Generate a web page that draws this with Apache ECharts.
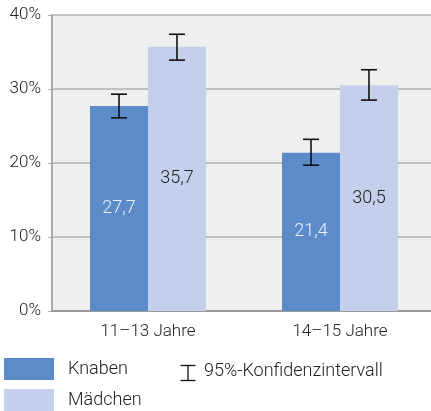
<!DOCTYPE html>
<html>
<head>
<meta charset="utf-8">
<script src="https://cdn.jsdelivr.net/npm/echarts@6/dist/echarts.min.js"></script>
<style>
  html, body { margin: 0; padding: 0; background: #fff; }
  #chart { width: 431px; height: 411px; }
</style>
</head>
<body>
<div id="chart"></div>
<script>
const categories = ['11–13 Jahre', '14–15 Jahre']
const knaben = [27.7, 21.4]
const maedchen = [35.7, 30.5]
const knabenCI = [[26.1, 29.3], [19.7, 23.2]]
const maedchenCI = [[33.9, 37.4], [28.5, 32.6]]
const yTicks = [0, 10, 20, 30, 40]

const FONT = 'Roboto'
const FS = 18
const BAR_W = 58

const fmt = v => String(v).replace('.', ',')

// error bars drawn next to the bar they belong to
const errorSeries = (ci, offset) => ({
  type: 'custom',
  silent: true,
  z: 5,
  data: ci.map((d, i) => [i, d[0], d[1]]),
  renderItem: (params, api) => {
    const lo = api.coord([api.value(0), api.value(1)])
    const hi = api.coord([api.value(0), api.value(2)])
    const x = lo[0] + offset
    const cap = 8
    const style = { stroke: '#111', lineWidth: 1.6 }
    return {
      type: 'group',
      children: [
        { type: 'line', shape: { x1: x, y1: hi[1], x2: x, y2: lo[1] }, style },
        { type: 'line', shape: { x1: x - cap, y1: hi[1], x2: x + cap, y2: hi[1] }, style },
        { type: 'line', shape: { x1: x - cap, y1: lo[1], x2: x + cap, y2: lo[1] }, style }
      ]
    }
  }
})

const chart = echarts.init(document.getElementById('chart'))

chart.setOption({
  animation: false,
  textStyle: { fontFamily: FONT },
  grid: {
    left: 52, width: 384, top: 15, bottom: 100,
    outerBoundsMode: 'none',
    show: true, backgroundColor: '#efefef', borderWidth: 0
  },
  legend: {
    orient: 'vertical',
    left: 4, top: 358, padding: 0,
    itemWidth: 50, itemHeight: 22, itemGap: 9,
    icon: 'rect',
    data: ['Knaben', 'Mädchen'],
    textStyle: { fontFamily: FONT, fontWeight: 300, fontSize: FS, color: '#222', padding: [0, 0, 0, 9] }
  },
  graphic: [
    {
      type: 'group', left: 178, top: 363,
      children: [
        { type: 'line', shape: { x1: 7.5, y1: 0, x2: 7.5, y2: 15 }, style: { stroke: '#111', lineWidth: 1.3 } },
        { type: 'line', shape: { x1: 0, y1: 0, x2: 15, y2: 0 }, style: { stroke: '#111', lineWidth: 1.3 } },
        { type: 'line', shape: { x1: 0, y1: 15, x2: 15, y2: 15 }, style: { stroke: '#111', lineWidth: 1.3 } }
      ]
    },
    {
      type: 'text', left: 204, top: 362,
      style: { text: '95%-Konfidenzintervall', font: '300 18px Roboto', fill: '#222' }
    }
  ],
  xAxis: {
    type: 'category',
    data: categories,
    axisLine: { lineStyle: { color: '#999', width: 2 } },
    axisTick: { show: false },
    axisLabel: { fontFamily: FONT, fontWeight: 300, fontSize: 17, color: '#222', margin: 12 }
  },
  yAxis: {
    type: 'value',
    min: yTicks[0], max: yTicks[yTicks.length - 1], interval: 10,
    axisLine: { show: true, lineStyle: { color: '#aaa', width: 2 } },
    axisTick: { show: true, length: 4, lineStyle: { color: '#aaa' } },
    splitLine: { lineStyle: { color: '#b0b0b0', width: 1.5 } },
    axisLabel: { fontFamily: FONT, fontWeight: 300, fontSize: 17, color: '#222', margin: 11, formatter: v => v + '%' }
  },
  series: [
    {
      name: 'Knaben', type: 'bar', data: knaben,
      barWidth: BAR_W, barGap: '0%',
      itemStyle: { color: '#5b8bc8' },
      label: { show: true, position: 'inside', formatter: p => fmt(p.value), fontFamily: FONT, fontWeight: 300, fontSize: FS, color: '#eef2fa' }
    },
    {
      name: 'Mädchen', type: 'bar', data: maedchen,
      barWidth: BAR_W,
      itemStyle: { color: '#c4cfeb' },
      label: { show: true, position: 'inside', formatter: p => fmt(p.value), fontFamily: FONT, fontWeight: 300, fontSize: FS, color: '#222' }
    },
    errorSeries(knabenCI, -BAR_W / 2),
    errorSeries(maedchenCI, BAR_W / 2)
  ]
})
</script>
</body>
</html>
